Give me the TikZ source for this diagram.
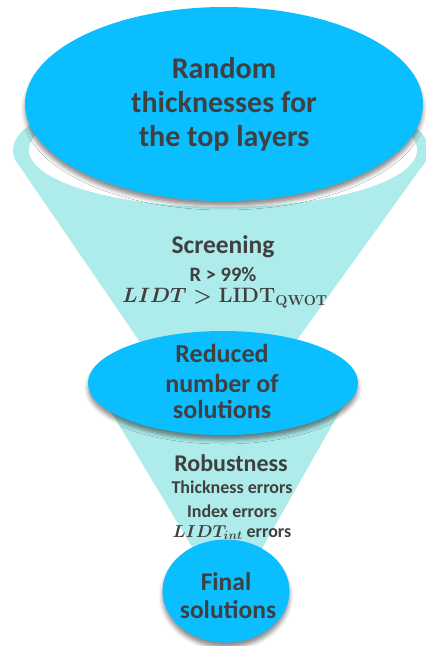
\documentclass[tikz,border=0pt]{standalone}
\usepackage[no-math]{fontspec}
\setmainfont{Carlito}
\usepackage{amsmath}
\usetikzlibrary{shapes.geometric,shadows.blur}
\definecolor{bluefill}{RGB}{10,190,255}
\definecolor{tealfill}{RGB}{174,235,235}
\definecolor{txt}{RGB}{64,64,64}
\newcommand\lidtline{{\mathversion{bold}$LIDT > \mathrm{LIDT}_{\mathrm{QWOT}}$}}
\newcommand\lidtint{{\mathversion{bold}$LIDT_{int}$}}
\tikzset{
  blueell/.style={ellipse, fill=bluefill, inner sep=0pt, draw=none,
    blur shadow={shadow xshift=0pt, shadow yshift=-5pt, shadow blur radius=4pt, shadow opacity=45}},
  lbl/.style={anchor=base, text=txt, inner sep=0pt},
}
\begin{document}
\begin{tikzpicture}[x=1pt,y=-1pt]
\useasboundingbox (0,0) rectangle (426,646);
% upper funnel
\fill[tealfill] (14,158) -- (428,158) -- (266,383) -- (168,383) -- cycle;
\fill[tealfill] (221,150) ellipse [x radius=208, y radius=64];
\fill[white] (223,150) ellipse [x radius=194, y radius=57];
\node[blueell, minimum width=398pt, minimum height=194pt] (top) at (224,104) {};
% lower funnel
\fill[tealfill] (94,383) -- (356,383) -- (260,552) -- (195,552) -- cycle;
\node[blueell, minimum width=270pt, minimum height=104pt] (mid) at (223,383) {};
\node[blueell, minimum width=127pt, minimum height=103pt] (fin) at (226,591) {};
% texts
\node[lbl, font=\bfseries\fontsize{30}{34}\selectfont] (t1) at (224,78) {Random};
\node[lbl, font=\bfseries\fontsize{30}{34}\selectfont] (t2) at (224,112) {thicknesses for};
\node[lbl, font=\bfseries\fontsize{30}{34}\selectfont] (t3) at (224,146) {the top layers};
\node[lbl, font=\bfseries\fontsize{25.5}{28}\selectfont] (s1) at (223,253) {Screening};
\node[lbl, font=\bfseries\fontsize{20.5}{22}\selectfont] (s2) at (223,281) {R > 99\%};
\node[lbl, font=\bfseries\fontsize{20}{22}\selectfont] (s3) at (225,302) {\lidtline};
\node[lbl, font=\bfseries\fontsize{26}{28}\selectfont] (m1) at (222,362) {Reduced};
\node[lbl, font=\bfseries\fontsize{26}{28}\selectfont] (m2) at (222,392) {number of};
\node[lbl, font=\bfseries\fontsize{26}{28}\selectfont] (m3) at (222,418) {solutions};
\node[lbl, font=\bfseries\fontsize{24}{26}\selectfont] (r1) at (231,471) {Robustness};
\node[lbl, font=\bfseries\fontsize{18}{20}\selectfont] (r2) at (232,493) {Thickness errors};
\node[lbl, font=\bfseries\fontsize{18}{20}\selectfont] (r3) at (232,517) {Index errors};
\node[lbl, font=\bfseries\fontsize{18}{20}\selectfont] (r4) at (232,537) {\lidtint{} errors};
\node[lbl, font=\bfseries\fontsize{25.5}{28}\selectfont] (f1) at (226,590) {Final};
\node[lbl, font=\bfseries\fontsize{25.5}{28}\selectfont] (f2) at (228,618) {solutions};
\end{tikzpicture}
\end{document}
